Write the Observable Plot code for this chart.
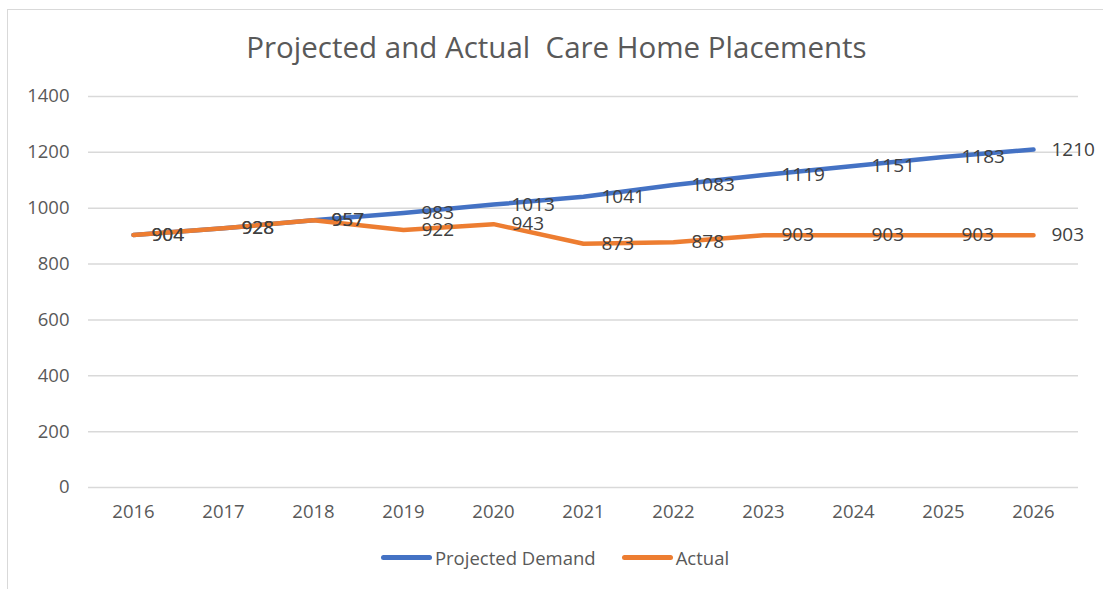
<!DOCTYPE html>
<html>
<head>
<meta charset="utf-8">
<script src="https://cdn.jsdelivr.net/npm/d3@7"></script>
<script src="https://cdn.jsdelivr.net/npm/@observablehq/plot@0.6"></script>
<style>
  html, body { margin: 0; padding: 0; background: #fff; }
  #wrap { position: relative; width: 1103px; height: 589px; overflow: hidden; }
  #frame { position: absolute; left: 7px; top: 9px; width: 1200px; height: 700px;
           border-left: 1.5px solid #d9d9d9; border-top: 1.5px solid #d9d9d9; }
  #title { position: absolute; left: 0; width: 1113px; top: 26px; text-align: center;
           font-family: "Open Sans", sans-serif; font-size: 29.5px; color: #595959; white-space: pre; line-height: normal; }
  #chart { position: absolute; left: 0; top: 70px; }
  #legend { position: absolute; left: 0; width: 1110px; top: 540px; text-align: center;
            font-family: "Open Sans", sans-serif; font-size: 18.5px; color: #595959; }
  #legend span.item { display: inline-flex; align-items: center; margin: 0 13px; }
  #legend span.sw { display: inline-block; width: 51px; height: 5px; border-radius: 3px; margin-right: 3px; }
</style>
</head>
<body>
<div id="wrap">
  <div id="frame"></div>
  <div id="title">Projected and Actual  Care Home Placements</div>
  <div id="chart"></div>
  <div id="legend"></div>
</div>
<script>
const years = ["2016","2017","2018","2019","2020","2021","2022","2023","2024","2025","2026"];
const projected = [904, 928, 957, 983, 1013, 1041, 1083, 1119, 1151, 1183, 1210];
const actual = [904, 928, 957, 922, 943, 873, 878, 903, 903, 903, 903];
const yTicks = [0, 200, 400, 600, 800, 1000, 1200, 1400];
const seriesNames = ["Projected Demand", "Actual"];
const seriesColors = ["#4472C4", "#ED7D31"];

const projData = years.map((y, i) => ({year: y, value: projected[i]}));
const actData = years.map((y, i) => ({year: y, value: actual[i]}));

const textColor = "#595959";
const labelStyle = {
  x: "year", y: "value", text: d => String(d.value),
  textAnchor: "start", dx: 18, lineAnchor: "middle",
  fontSize: 19, fill: "#404040", fontFamily: "Open Sans, sans-serif"
};

const chart = Plot.plot({
  width: 1103,
  height: 462,
  marginLeft: 88,
  marginRight: 25,
  marginTop: 26,
  marginBottom: 45,
  style: { fontFamily: "Open Sans, sans-serif", fontSize: "18.5px", color: textColor, background: "transparent" },
  x: { type: "point", domain: years, padding: 0.5, label: null },
  y: { domain: [0, 1400], label: null },
  marks: [
    Plot.ruleY(yTicks, { stroke: "#d9d9d9", strokeWidth: 1.5 }),
    Plot.axisY(yTicks, { tickSize: 0, tickPadding: 19, fontSize: 18.5, fill: textColor, label: null, tickFormat: d => String(d) }),
    Plot.axisX(years, { tickSize: 0, tickPadding: 17, fontSize: 18.5, fill: textColor, label: null }),
    Plot.line(projData, { x: "year", y: "value", stroke: seriesColors[0], strokeWidth: 4.5, strokeLinecap: "round", strokeLinejoin: "round" }),
    Plot.line(actData, { x: "year", y: "value", stroke: seriesColors[1], strokeWidth: 4.5, strokeLinecap: "round", strokeLinejoin: "round" }),
    Plot.text(projData, labelStyle),
    Plot.text(actData, labelStyle)
  ]
});
document.getElementById("chart").appendChild(chart);

const legend = document.getElementById("legend");
seriesNames.forEach((name, i) => {
  const item = document.createElement("span");
  item.className = "item";
  const sw = document.createElement("span");
  sw.className = "sw";
  sw.style.background = seriesColors[i];
  item.appendChild(sw);
  item.appendChild(document.createTextNode(name));
  legend.appendChild(item);
});
</script>
</body>
</html>
